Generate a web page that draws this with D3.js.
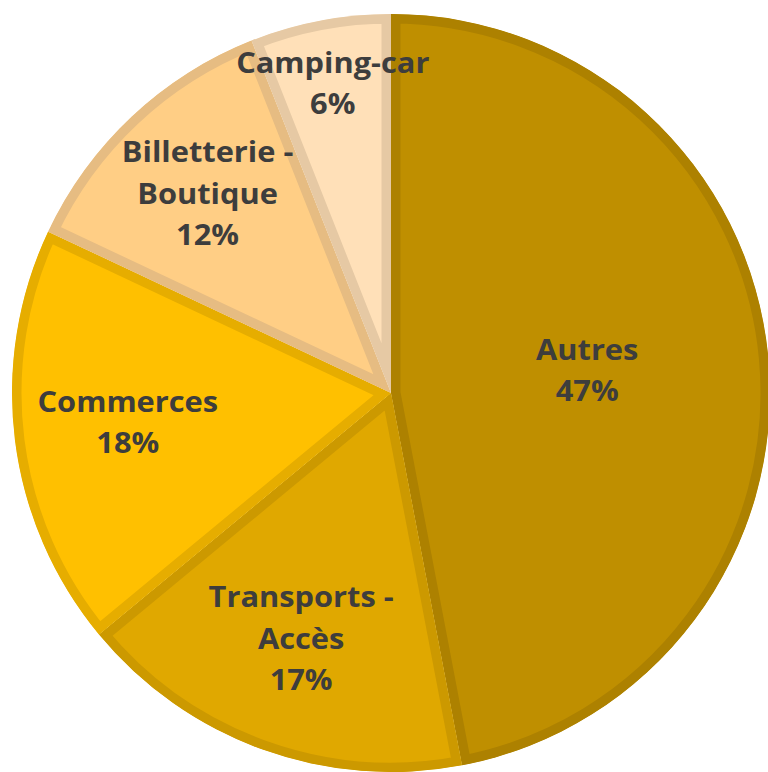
<!DOCTYPE html>
<html><head><meta charset="utf-8">
<script src="https://cdn.jsdelivr.net/npm/d3@7"></script>
<style>html,body{margin:0;padding:0;background:#fff;}svg{display:block;}</style>
</head><body>
<svg id="chart" width="768" height="772"></svg>
<script>
const categories = ["Autres", "Transports - Accès", "Commerces", "Billetterie - Boutique", "Camping-car"];
const labelLines = [["Autres"], ["Transports -", "Accès"], ["Commerces"], ["Billetterie -", "Boutique"], ["Camping-car"]];
const values = [47, 17, 18, 12, 6];
const fills = ["#BF8F00", "#E0A800", "#FFC000", "#FFCE85", "#FFE0B8"];
const borders = ["#AD8100", "#CC9900", "#E6AD00", "#E6BC82", "#E6C9A4"];
const labelRadius = [0.52, 0.70, 0.70, 0.707, 0.82];

const svg = d3.select("#chart");
const cx = 391, cy = 393, r = 379;
const g = svg.append("g").attr("transform", `translate(${cx},${cy})`);
const pie = d3.pie().sort(null).value(d => d)(values);
const arc = d3.arc().innerRadius(0).outerRadius(r);
const defs = svg.append("defs");
pie.forEach((p, i) => {
  defs.append("clipPath").attr("id", "clip" + i).append("path").attr("d", arc(p));
});
g.selectAll("path.slice").data(pie).join("path")
  .attr("class", "slice")
  .attr("d", arc)
  .attr("fill", (d, i) => fills[i])
  .attr("stroke", (d, i) => borders[i])
  .attr("stroke-width", 19)
  .attr("stroke-linejoin", "miter")
  .attr("clip-path", (d, i) => `url(#clip${i})`);
const total = d3.sum(values);
pie.forEach((p, i) => {
  const a = (p.startAngle + p.endAngle) / 2;
  const rr = r * labelRadius[i];
  const x = Math.sin(a) * rr, y = -Math.cos(a) * rr;
  const lines = labelLines[i].concat([Math.round(values[i] / total * 100) + "%"]);
  const lh = 41.5;
  const t = g.append("text").attr("text-anchor", "middle")
    .attr("transform", `translate(${x},${y}) scale(1.1,1)`)
    .attr("font-family", "'Open Sans', sans-serif").attr("font-weight", "bold")
    .attr("font-size", 28).attr("fill", "#3D3D3D");
  lines.forEach((l, k) => {
    t.append("tspan").attr("x", 0).attr("y", (k - (lines.length - 1) / 2) * lh + 6).text(l);
  });
});
</script>
</body></html>
